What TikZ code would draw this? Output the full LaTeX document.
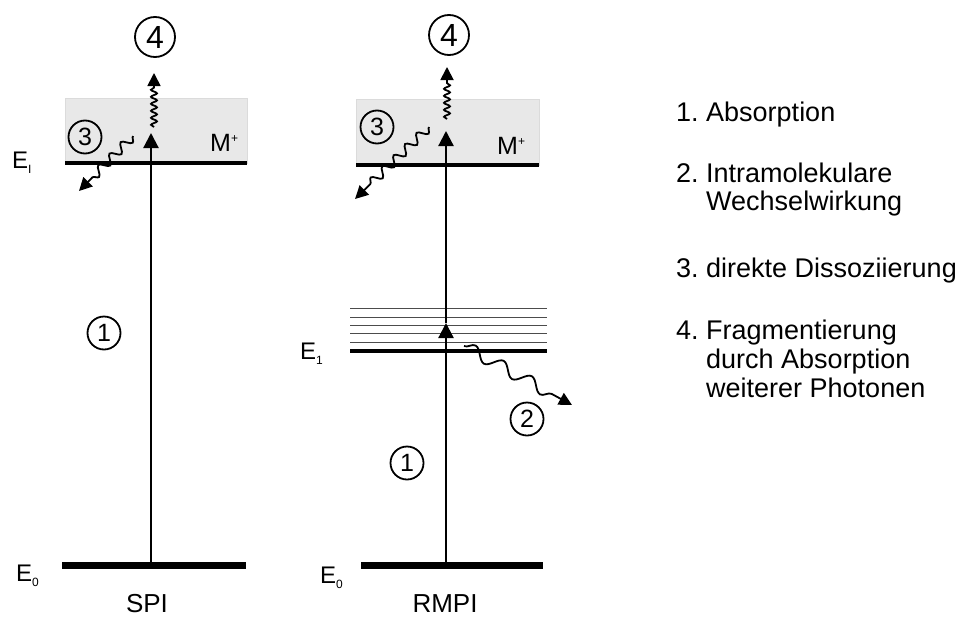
\documentclass[tikz,border=0pt]{standalone}
\usepackage{fontspec}
\setmainfont{Liberation Sans}
\usetikzlibrary{arrows.meta,decorations.pathmorphing}

\begin{document}
\frenchspacing
\begin{tikzpicture}[x=1pt,y=-1pt,
  ionlevel/.style={line width=4.5pt},
  groundlevel/.style={line width=7pt},
  midlevel/.style={line width=4pt},
  viblevel/.style={line width=0.9pt, draw=black!70},
  ionbox/.style={fill=black!9, draw=black!14, line width=0.6pt},
  photon/.style={line width=2.2pt, -{Triangle[length=15pt,width=15pt]}},
  fragwave/.style={line width=1.8pt, -{Triangle[length=13pt,width=13pt]},
    decorate, decoration={snake, amplitude=3pt, segment length=7pt, post length=14pt}},
  dissowave/.style={line width=1.8pt, -{Triangle[length=13pt,width=13pt]},
    decorate, decoration={snake, amplitude=4.5pt, segment length=16pt, post length=18pt}},
  relaxwave/.style={line width=1.8pt, -{Triangle[length=13pt,width=13pt]},
    decorate, decoration={snake, amplitude=6pt, segment length=32pt, post length=16pt}},
  numsmall/.style={circle, draw, line width=1.8pt, inner sep=0pt, minimum size=33pt,
    font=\fontsize{25}{25}\selectfont},
  numbig/.style={circle, draw, line width=1.8pt, inner sep=0pt, minimum size=40pt,
    font=\fontsize{32}{32}\selectfont},
  lvltext/.style={anchor=base west, inner sep=0pt, font=\fontsize{24}{24}\selectfont},
  iontext/.style={anchor=base west, inner sep=0pt, font=\fontsize{25}{25}\selectfont},
  caption/.style={anchor=base, inner sep=0pt, font=\fontsize{26}{26}\selectfont},
  legend/.style={anchor=base west, inner sep=0pt, font=\fontsize{27}{27}\selectfont},
]
\useasboundingbox (0,0) rectangle (965,618);

\newcommand{\lowsub}[1]{\raisebox{-5pt}{\fontsize{12}{12}\selectfont #1}}
\newcommand{\highsup}[1]{\raisebox{9pt}{\fontsize{12}{12}\selectfont #1}}

% ---------------- SPI ----------------
\draw[ionbox] (65,98) rectangle (247,163);
\draw[ionlevel] (65,163) -- (247,163);
\draw[groundlevel] (62,565) -- (246,565);

\coordinate (s0) at (151,565);
\coordinate (sI) at (151,133);
\coordinate (sfragA) at (154,127);
\coordinate (sfragB) at (154,73);
\coordinate (sdisA) at (133,136);
\coordinate (sdisB) at (79,191);

\draw[photon] (s0) -- (sI);
\draw[fragwave] (sfragA) -- (sfragB);
\draw[dissowave] (sdisA) -- (sdisB);

\node[numbig] (s4) at (155,37) {4};
\node[numsmall] (s3) at (85,137) {3};
\node[numsmall] (s1) at (104,333) {1};
\node[iontext] (sM) at (210,151) {M\highsup{+}};
\node[lvltext] (sEI) at (12,168) {E\lowsub{I}};
\node[lvltext] (sE0) at (16,581) {E\lowsub{0}};
\node[caption] (spi) at (147,612) {SPI};

% ---------------- RMPI ----------------
\draw[ionbox] (356,99) rectangle (539,165);
\draw[ionlevel] (356,165) -- (539,165);
\foreach \yy in {308,317,325,333,342}
  \draw[viblevel] (350,\yy) -- (547,\yy);
\draw[midlevel] (350,351) -- (547,351);
\draw[groundlevel] (361,565) -- (543,565);

\coordinate (r0) at (446,565);
\coordinate (r1) at (446,323);
\coordinate (rI) at (446,131);
\coordinate (rfragA) at (447,119);
\coordinate (rfragB) at (447,67);
\coordinate (rdisA) at (429,127);
\coordinate (rdisB) at (355,199);
\coordinate (rrelA) at (464,346);
\coordinate (rrelB) at (572,405);

\draw[photon] (r0) -- (r1);
\draw[photon] (r1) -- (rI);
\draw[fragwave] (rfragA) -- (rfragB);
\draw[dissowave] (rdisA) -- (rdisB);
\draw[relaxwave] (rrelA) -- (rrelB);

\node[numbig] (r4) at (449,35) {4};
\node[numsmall] (r3) at (377,127) {3};
\node[numsmall] (r2) at (527,419) {2};
\node[numsmall] (r1n) at (407,463) {1};
\node[iontext] (rM) at (497,154) {M\highsup{+}};
\node[lvltext] (rE1) at (300,359) {E\lowsub{1}};
\node[lvltext] (rE0) at (320,583) {E\lowsub{0}};
\node[caption] (rmpi) at (445,612) {RMPI};

% ---------------- Legend ----------------
\node[legend] (l1) at (676,121) {1. Absorption};
\node[legend] (l2) at (676,182) {2. Intramolekulare};
\node[legend] (l2b) at (706,210) {Wechselwirkung};
\node[legend] (l3) at (676,277) {3. direkte Dissoziierung};
\node[legend] (l4) at (676,339) {4. Fragmentierung};
\node[legend] (l4b) at (706,368) {durch Absorption};
\node[legend] (l4c) at (706,397) {weiterer Photonen};
\end{tikzpicture}
\end{document}
